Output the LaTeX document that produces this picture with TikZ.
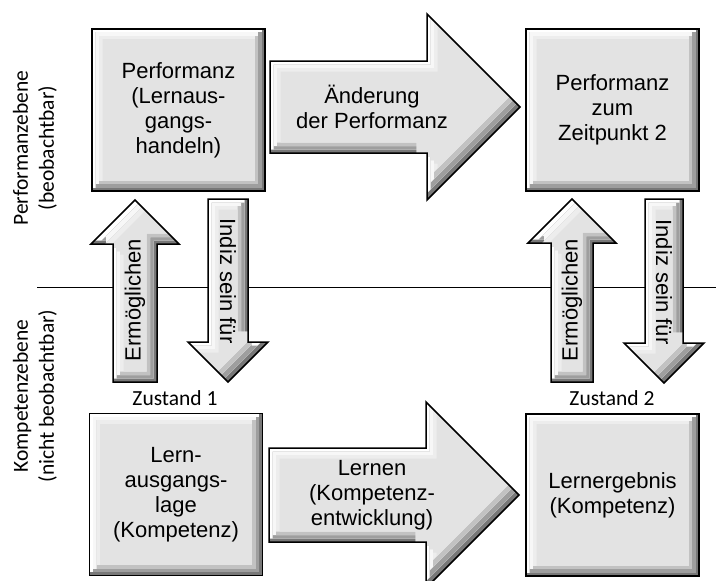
\documentclass[tikz,border=0pt]{standalone}
\usepackage{fontspec}
\setmainfont{Liberation Sans}
\newfontfamily\calfont{Carlito}
\definecolor{bevmid}{gray}{0.89}
\definecolor{bevlightA}{gray}{1}
\definecolor{bevlightB}{gray}{0.97}
\definecolor{bevlightC}{gray}{0.93}
\definecolor{bevdarkA}{gray}{0.47}
\definecolor{bevdarkB}{gray}{0.62}
\definecolor{bevdarkC}{gray}{0.76}
\newcommand{\bevelfill}[1]{%
  \begin{scope}
    \clip #1;
    \fill[bevdarkA] #1;
    \fill[bevlightA, shift={(-3.5,-3.5)}] #1;
    \clip[shift={(3.5,3.5)}] #1;
    \fill[bevdarkB, shift={(-3.5,-3.5)}] #1;
    \fill[bevlightB, shift={(-7,-7)}] #1;
    \clip[shift={(7,7)}] #1;
    \fill[bevdarkC, shift={(-7,-7)}] #1;
    \fill[bevlightC, shift={(-10.5,-10.5)}] #1;
    \clip[shift={(10.5,10.5)}] #1;
    \fill[bevmid, shift={(-10.5,-10.5)}] #1;
  \end{scope}}
\newcommand{\bigarrow}[1]{\bevelfill{#1}\draw[line width=1.5pt] #1;}

\begin{document}
\begin{tikzpicture}
	[x=1pt, y=-1pt,
	txt/.style={font=\fontsize{22}{25}\selectfont, align=center},
	side/.style={font=\calfont\fontsize{21.5}{26}\selectfont, align=center},
	box/.style={txt, draw, line width=1.6pt, minimum width=173pt, minimum height=162pt, inner sep=0pt}]
	\useasboundingbox (0,0) rectangle (716,581);
	\clip (0,0) rectangle (716,581);
	
	\coordinate (l0) at (37,287);
	\coordinate (l1) at (716,287);
	\draw[line width=1pt] (l0) -- (l1);
	
	\foreach \bx/\by in {178.5/110,612.5/110,176/494.5,612.5/495}
	{\bevelfill{(\bx-86.5,\by-81) rectangle (\bx+86.5,\by+81)}}
	
	\node[box] (pa) at (178.5,110) {Performanz\\(Lernaus-\\gangs-\\handeln)};
	\node[box] (pz) at (612.5,110) {Performanz\\zum\\Zeitpunkt 2};
	\node[box] (la) at (176,494.5) {Lern-\\ausgangs-\\lage\\(Kompetenz)};
	\node[box] (le) at (612.5,495) {Lernergebnis\\(Kompetenz)};
	
	\bigarrow{(270,61) -- (427,61) -- (427,14) -- (520,107) -- (427,200) -- (427,153) -- (270,153) -- cycle}
	\bigarrow{(269,448) -- (426,448) -- (426,402) -- (519,495) -- (426,588) -- (426,542) -- (269,542) -- cycle}
	\bigarrow{(113,382) -- (113,244) -- (91,244) -- (135,200) -- (179,244) -- (157,244) -- (157,382) -- cycle}
	\bigarrow{(208,199) -- (248,199) -- (248,342) -- (268,342) -- (228,382) -- (188,342) -- (208,342) -- cycle}
	\bigarrow{(551,382) -- (551,243) -- (528,243) -- (572,199) -- (616,243) -- (593,243) -- (593,382) -- cycle}
	\bigarrow{(645,199) -- (683,199) -- (683,343) -- (704,343) -- (664,383) -- (624,343) -- (645,343) -- cycle}
	
	\node[txt] (chg) at (372,107) {Änderung\\der Performanz};
	\node[txt] (lrn) at (372,495) {Lernen\\(Kompetenz-\\entwicklung)};
	\node[txt, rotate=90] (erm1) at (135,300) {Ermöglichen};
	\node[txt, rotate=-90] (ind1) at (228,281) {Indiz sein für};
	\node[txt, rotate=90] (erm2) at (572,300) {Ermöglichen};
	\node[txt, rotate=-90] (ind2) at (664,282) {Indiz sein für};
	
	\node[side] (z1) at (175,398) {Zustand 1};
	\node[side] (z2) at (612,398) {Zustand 2};
	\node[side, rotate=90] (perf) at (35,148) {Performanzebene\\(beobachtbar)};
	\node[side, rotate=90] (komp) at (35,396) {Kompetenzebene\\(nicht beobachtbar)};
\end{tikzpicture}
\end{document}
